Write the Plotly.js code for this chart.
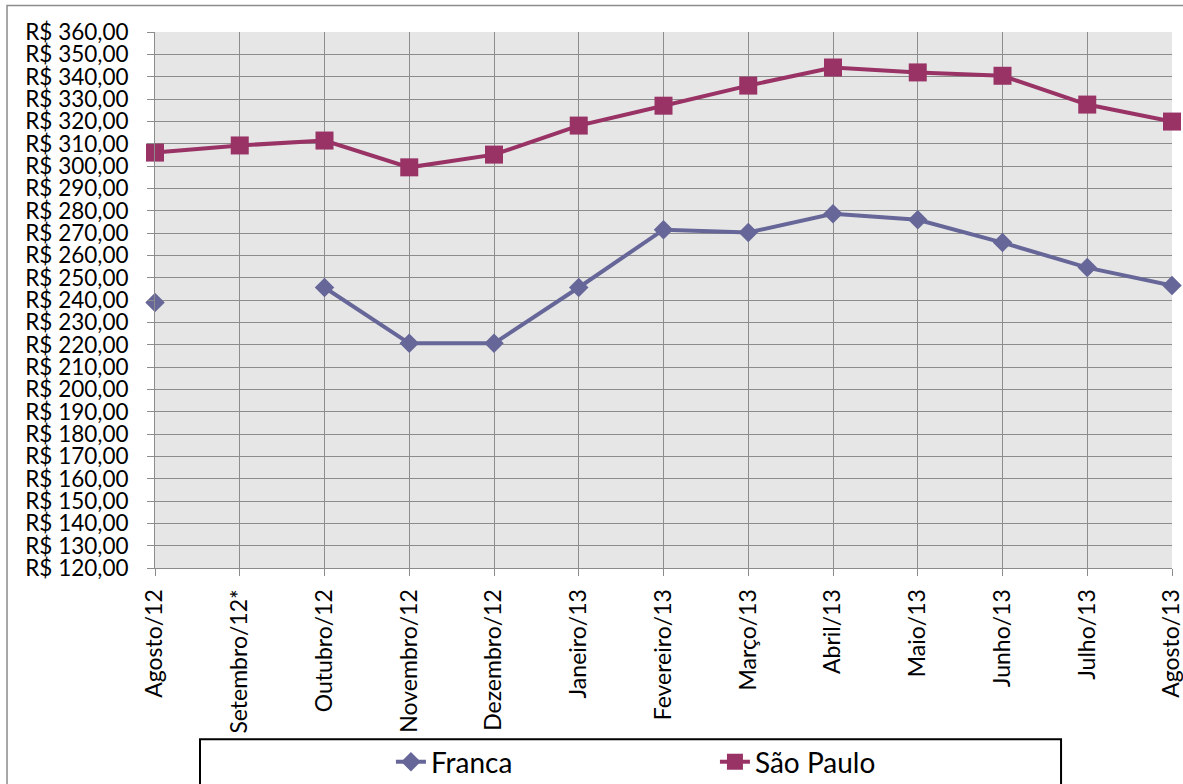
<!DOCTYPE html>
<html>
<head>
<meta charset="utf-8">
<script src="https://cdn.plot.ly/plotly-3.0.1.min.js"></script>
<style>html,body{margin:0;padding:0;background:#fff;}#chart{width:1183px;height:784px;}</style>
</head>
<body>
<div id="chart"></div>
<script>
const months = ["Agosto/12","Setembro/12*","Outubro/12","Novembro/12","Dezembro/12","Janeiro/13","Fevereiro/13","Março/13","Abril/13","Maio/13","Junho/13","Julho/13","Agosto/13"];
const franca = [238.9, null, 245.6, 220.6, 220.6, 245.6, 271.5, 270.2, 278.6, 275.9, 265.7, 254.5, 246.5];
const saoPaulo = [306.0, 309.2, 311.4, 299.4, 305.1, 318.1, 327.0, 336.0, 344.1, 341.9, 340.4, 327.5, 319.9];

const FONT = "Lato, 'Open Sans', sans-serif";

const traces = [
  {
    x: months, y: franca, name: "Franca", type: "scatter", mode: "lines+markers",
    connectgaps: false, cliponaxis: false,
    line: {color: "#666699", width: 4},
    marker: {symbol: "diamond", size: 15, color: "#666699"}
  },
  {
    x: months, y: saoPaulo, name: "São Paulo", type: "scatter", mode: "lines+markers",
    cliponaxis: false,
    line: {color: "#993366", width: 4},
    marker: {symbol: "square", size: 18, color: "#993366"}
  }
];

const layout = {
  width: 1183, height: 784,
  margin: {l: 155, r: 11, t: 32, b: 216, pad: 0, autoexpand: false},
  paper_bgcolor: "#ffffff",
  plot_bgcolor: "#e6e6e6",
  separators: ",.",
  font: {family: FONT, size: 22, color: "#000"},
  showlegend: true,
  xaxis: {
    type: "category",
    range: [0, 12],
    tickangle: -90,
    automargin: false,
    showgrid: true, gridcolor: "#8c8c8c", gridwidth: 1,
    showline: true, linecolor: "#8c8c8c", linewidth: 1,
    ticks: "outside", ticklen: 7, tickcolor: "#8c8c8c",
    ticklabelstandoff: 4,
    tickfont: {family: FONT, size: 23, color: "#000"},
    fixedrange: true, zeroline: false
  },
  yaxis: {
    range: [120, 360],
    automargin: false,
    dtick: 10, tick0: 120,
    tickprefix: "R$ ",
    tickformat: ".2f",
    showgrid: true, gridcolor: "#8c8c8c", gridwidth: 1,
    showline: true, linecolor: "#8c8c8c", linewidth: 1,
    ticks: "outside", ticklen: 7, tickcolor: "#8c8c8c",
    ticklabelstandoff: 14,
    tickfont: {family: FONT, size: 22.5, color: "#000"},
    fixedrange: true, zeroline: false
  },
  legend: {
    orientation: "h",
    x: 0.232, xanchor: "left",
    y: -0.362, yanchor: "middle",
    bgcolor: "rgba(0,0,0,0)",
    borderwidth: 0,
    font: {family: FONT, size: 28, color: "#000"},
    entrywidth: 279, entrywidthmode: "pixels",
    traceorder: "normal"
  },
  shapes: [
    {type: "rect", xref: "paper", yref: "paper", x0: 0.04425, x1: 0.8909, y0: -0.3193, y1: -0.5,
     line: {color: "#000", width: 2}, fillcolor: "rgba(0,0,0,0)", layer: "below"},
    {type: "path", xref: "paper", yref: "paper",
     path: "M -0.1455 -0.6 L -0.1455 1.0495 L 1.2 1.0495",
     line: {color: "#8c8c8c", width: 1.5}}
  ]
};

Plotly.newPlot("chart", traces, layout, {displayModeBar: false, staticPlot: true});
</script>
</body>
</html>
